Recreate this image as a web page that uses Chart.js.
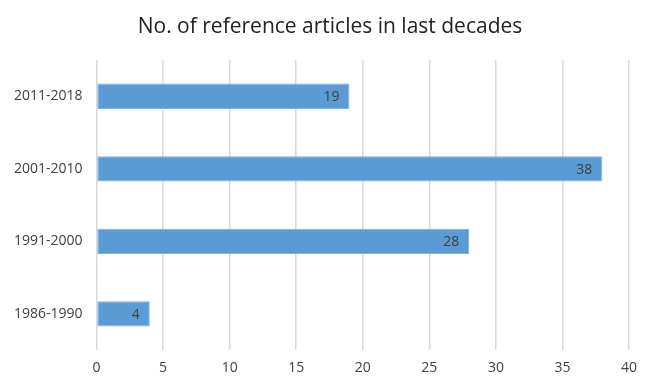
<!DOCTYPE html>
<html>
<head>
<meta charset="utf-8">
<script src="https://cdn.jsdelivr.net/npm/chart.js@4"></script>
<style>
  html, body { margin: 0; padding: 0; background: #fff; }
  #wrap { width: 646px; height: 376px; }
</style>
</head>
<body>
<div id="wrap"><canvas id="myChart" width="646" height="376"></canvas></div>
<script>
const categories = ['2011-2018', '2001-2010', '1991-2000', '1986-1990'];
const articles = [19, 38, 28, 4];
const xTicks = [0, 5, 10, 15, 20, 25, 30, 35, 40];
const chartTitle = 'No. of reference articles in last decades';

const textColor = '#404040';
const fontFamily = "'Open Sans', 'Liberation Sans', sans-serif";

// draws the value inside the end of each bar, plus the title
const barLabels = {
  id: 'barLabels',
  afterDatasetsDraw(chart) {
    const ctx = chart.ctx;
    const meta = chart.getDatasetMeta(0);
    ctx.save();
    ctx.font = '14px ' + fontFamily;
    ctx.fillStyle = textColor;
    ctx.textAlign = 'right';
    ctx.textBaseline = 'middle';
    meta.data.forEach((bar, i) => {
      ctx.fillText(String(articles[i]), bar.x - 10, bar.y + 1);
    });
    ctx.font = '21px ' + fontFamily;
    ctx.fillStyle = '#222';
    ctx.textAlign = 'center';
    ctx.fillText(chartTitle, 330, 27);
    ctx.restore();
  }
};

const ctx = document.getElementById('myChart').getContext('2d');
const chart = new Chart(ctx, {
  type: 'bar',
  data: {
    labels: categories,
    datasets: [
      {
        label: 'No. of reference articles',
        data: articles,
        backgroundColor: '#5B9BD5',
        borderColor: '#7FB2E0',
        borderWidth: 1,
        borderSkipped: false,
        barPercentage: 0.35,
        categoryPercentage: 1.0
      }
    ]
  },
  options: {
    indexAxis: 'y',
    responsive: false,
    animation: false,
    layout: { padding: { left: 8, right: 16, top: 60, bottom: -9 } },
    plugins: {
      legend: { display: false },
      tooltip: { enabled: false },
      title: { display: false }
    },
    scales: {
      x: {
        min: 0,
        max: 40,
        afterBuildTicks: axis => { axis.ticks = xTicks.map(v => ({ value: v })); },
        grid: { color: '#D9D9D9', lineWidth: 1.5, drawTicks: false },
        border: { display: false },
        ticks: {
          color: textColor,
          padding: 9,
          font: { family: fontFamily, size: 14 }
        }
      },
      y: {
        grid: { display: false },
        border: { display: false },
        ticks: {
          color: textColor,
          padding: 6,
          font: { family: fontFamily, size: 14 }
        }
      }
    }
  },
  plugins: [barLabels]
});
</script>
</body>
</html>
